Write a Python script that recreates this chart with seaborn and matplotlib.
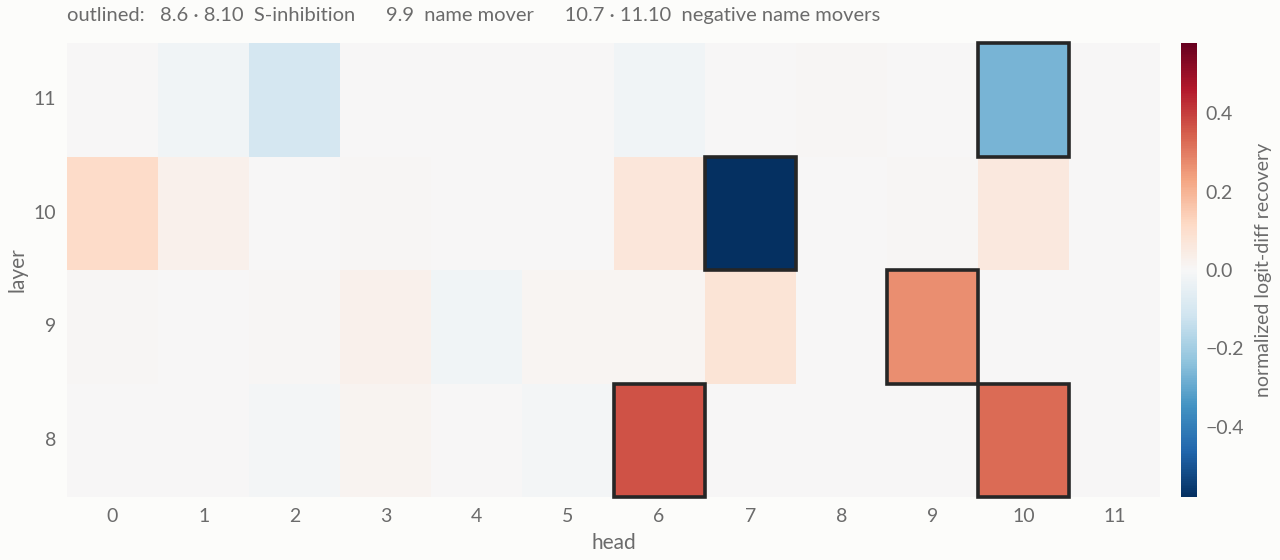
import matplotlib
matplotlib.use("Agg")
import matplotlib.pyplot as plt
import numpy as np
import pandas as pd
import seaborn as sns
from matplotlib.patches import Rectangle

# Data: normalized logit-diff recovery per (layer, head)
layers = [11, 10, 9, 8]
heads = list(range(12))
layer_11 = [0.0, -0.02, -0.10, 0.0, 0.0, 0.0, -0.02, 0.0, 0.005, 0.0, -0.27, 0.0]
layer_10 = [0.11, 0.03, 0.0, 0.005, 0.0, 0.0, 0.07, -0.58, 0.0, 0.005, 0.06, 0.0]
layer_9 = [0.005, 0.0, 0.005, 0.03, -0.02, 0.01, 0.01, 0.08, 0.0, 0.27, 0.0, 0.0]
layer_8 = [0.0, 0.0, -0.01, 0.015, 0.0, -0.01, 0.37, 0.0, 0.0, 0.0, 0.33, 0.0]
outlined = [(8, 6), (8, 10), (9, 9), (10, 7), (11, 10)]

bg = "#fcfcfa"
txt = "#6b6b6b"

sns.set_theme(style="white")
plt.rcParams["font.family"] = ["Lato", "DejaVu Sans"]
plt.rcParams["figure.facecolor"] = bg
plt.rcParams["axes.facecolor"] = bg

df = pd.DataFrame([layer_11, layer_10, layer_9, layer_8], index=layers, columns=heads)

fig = plt.figure(figsize=(12.8, 5.6), dpi=100)
ax = fig.add_axes([67 / 1280, 63 / 560, 1093 / 1280, 454 / 560])
cax = fig.add_axes([1181 / 1280, 63 / 560, 16 / 1280, 454 / 560])

sns.heatmap(df, ax=ax, cbar_ax=cax, cmap="RdBu_r", vmin=-0.58, vmax=0.58,
            cbar_kws={"ticks": [-0.4, -0.2, 0.0, 0.2, 0.4]})

for layer, head in outlined:
    r = layers.index(layer)
    ax.add_patch(Rectangle((head, r), 1, 1, fill=False, edgecolor="#262626",
                           lw=2.6, zorder=5, clip_on=False))

ax.set_xlabel("head", fontsize=15, color=txt, labelpad=6)
ax.set_ylabel("layer", fontsize=15, color=txt)
ax.tick_params(axis="both", length=0, labelsize=14, labelcolor=txt, pad=8)
ax.set_yticklabels(layers, rotation=0)

cax.tick_params(length=0, labelsize=14, labelcolor=txt, pad=6)
cax.set_ylabel("normalized logit-diff recovery", fontsize=14, color=txt, labelpad=8)
cax.set_yticklabels(["\u22120.4", "\u22120.2", "0.0", "0.2", "0.4"])
for s in cax.spines.values():
    s.set_visible(False)

fig.text(67 / 1280, 1 - 15 / 560,
         "outlined:   8.6 \u00b7 8.10  S-inhibition      9.9  name mover      "
         "10.7 \u00b7 11.10  negative name movers",
         fontsize=14.5, color=txt, ha="left", va="center")

fig.savefig("out.png", dpi=100, facecolor=bg)
